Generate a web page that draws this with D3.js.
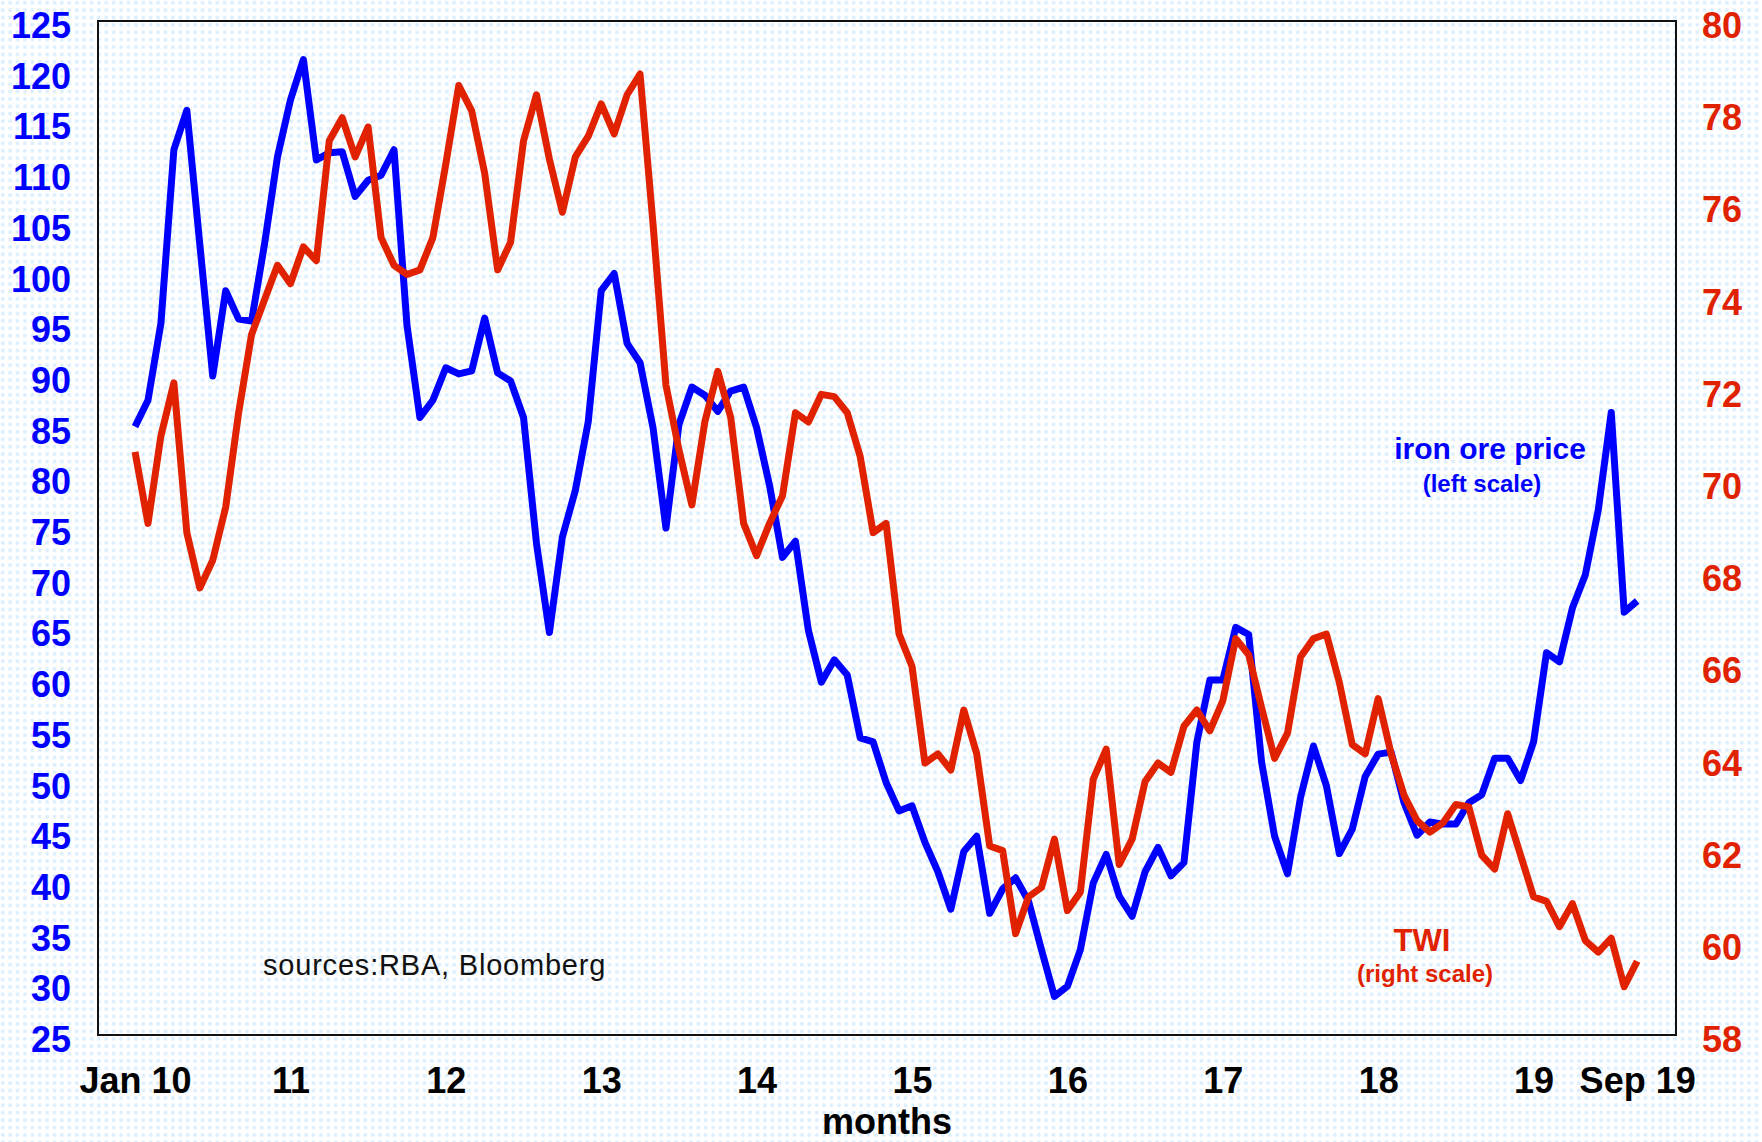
<!DOCTYPE html>
<html>
<head>
<meta charset="utf-8">
<script src="https://cdn.jsdelivr.net/npm/d3@7"></script>
<style>
  body { margin: 0; background: #ffffff; }
  svg { display: block; }
  text { font-family: "Liberation Sans", Arial, Helvetica, sans-serif; }
</style>
</head>
<body>
<svg id="chart" width="1762" height="1142"></svg>
<script>
// ---------------- DATA ----------------
// monthly, Jan 2010 .. Sep 2019
const months = d3.timeMonth.range(new Date(2010, 0, 1), new Date(2019, 9, 1));

// iron ore price, US$/t (left scale)
const ironOre = [
  85.0, 87.6, 95.2, 112.3, 116.2, 103.0, 90.0, 98.4, 95.6, 95.4, 103.0, 111.6,
  117.2, 121.2, 111.3, 112.0, 112.1, 107.7, 109.3, 109.8, 112.3, 95.0, 85.9, 87.6,
  90.8, 90.2, 90.5, 95.7, 90.3, 89.5, 85.9, 73.5, 64.7, 74.1, 78.7, 85.5,
  98.4, 100.1, 93.2, 91.3, 84.9, 75.0, 85.2, 88.9, 88.1, 86.5, 88.5, 88.9,
  84.9, 79.2, 72.1, 73.7, 64.9, 59.8, 62.0, 60.5, 54.3, 53.9, 49.9, 47.1,
  47.6, 44.0, 41.1, 37.4, 43.1, 44.6, 37.0, 39.4, 40.5, 38.2, 33.4, 28.8,
  29.8, 33.4, 40.0, 42.8, 38.7, 36.7, 41.1, 43.5, 40.7, 42.0, 53.9, 60.0,
  60.0, 65.2, 64.5, 51.9, 44.6, 40.9, 48.4, 53.5, 49.6, 42.9, 45.3, 50.5,
  52.7, 52.9, 47.9, 44.7, 46.0, 45.8, 45.8, 47.9, 48.7, 52.3, 52.3, 50.1,
  53.9, 62.7, 61.8, 67.1, 70.4, 76.8, 86.4, 66.7, 67.8
];

// trade weighted index (right scale)
const twi = [
  70.65, 69.1, 71.0, 72.15, 68.9, 67.7, 68.3, 69.45, 71.5, 73.2, 73.95, 74.7,
  74.3, 75.1, 74.8, 77.4, 77.9, 77.05, 77.7, 75.3, 74.7, 74.5, 74.6, 75.3,
  76.9, 78.6, 78.05, 76.7, 74.6, 75.2, 77.4, 78.4, 77.0, 75.85, 77.05, 77.5,
  78.2, 77.55, 78.4, 78.85, 75.6, 72.1, 70.7, 69.5, 71.3, 72.4, 71.4, 69.1,
  68.4, 69.1, 69.7, 71.5, 71.3, 71.9, 71.85, 71.5, 70.55, 68.9, 69.1, 66.7,
  66.0, 63.9, 64.1, 63.75, 65.05, 64.1, 62.1, 62.0, 60.2, 61.0, 61.2, 62.25,
  60.7, 61.1, 63.55, 64.2, 61.7, 62.25, 63.5, 63.9, 63.7, 64.7, 65.05, 64.6,
  65.25, 66.6, 66.25, 65.1, 64.0, 64.55, 66.2, 66.6, 66.7, 65.65, 64.3, 64.1,
  65.3, 64.1, 63.2, 62.65, 62.4, 62.6, 63.0, 62.95, 61.9, 61.6, 62.8, 61.9,
  61.0, 60.9, 60.35, 60.85, 60.05, 59.8, 60.1, 59.05, 59.6
];

const xTickIndex  = [0, 12, 24, 36, 48, 60, 72, 84, 96, 108, 116];
const xTickLabels = ["Jan 10", "11", "12", "13", "14", "15", "16", "17", "18", "19", "Sep 19"];
const leftTicks  = d3.range(25, 126, 5);
const rightTicks = d3.range(58, 81, 2);

// ---------------- LAYOUT ----------------
const W = 1762, H = 1142;
const plot = { left: 98, top: 21, right: 1676, bottom: 1035 };
const BLUE = "#0000ff", RED = "#e02200";

const svg = d3.select("#chart");

// dotted background pattern
const defs = svg.append("defs");
const pat = defs.append("pattern")
  .attr("id", "dots").attr("patternUnits", "userSpaceOnUse")
  .attr("width", 7.4).attr("height", 7.4);
pat.append("rect").attr("width", 7.4).attr("height", 7.4).attr("fill", "#ffffff");
pat.append("rect").attr("x", 1).attr("y", 1).attr("width", 3.4).attr("height", 3.4).attr("fill", "#dcefff");
svg.append("rect").attr("width", W).attr("height", H).attr("fill", "url(#dots)");

// scales
const x = d3.scaleLinear().domain([-2.86, 119.0]).range([plot.left, plot.right]);
const yL = d3.scaleLinear().domain([25, 125]).range([plot.bottom, plot.top]);
const yR = d3.scaleLinear().domain([58, 80]).range([plot.bottom, plot.top]);

// frame
svg.append("rect")
  .attr("x", plot.left).attr("y", plot.top)
  .attr("width", plot.right - plot.left).attr("height", plot.bottom - plot.top)
  .attr("fill", "none").attr("stroke", "#111").attr("stroke-width", 2);

// left axis
const gL = svg.append("g").attr("transform", `translate(${plot.left},0)`)
  .call(d3.axisLeft(yL).tickValues(leftTicks).tickSize(0).tickPadding(27).tickFormat(d3.format("d")));
gL.select(".domain").remove();
gL.selectAll("text").attr("fill", BLUE).attr("font-size", 36).attr("font-weight", "bold")
  .attr("dy", "0.46em").style("font-family", '"Liberation Sans", Arial, sans-serif');

// right axis
const gR = svg.append("g").attr("transform", `translate(${plot.right},0)`)
  .call(d3.axisRight(yR).tickValues(rightTicks).tickSize(0).tickPadding(26).tickFormat(d3.format("d")));
gR.select(".domain").remove();
gR.selectAll("text").attr("fill", RED).attr("font-size", 36).attr("font-weight", "bold")
  .attr("dy", "0.46em").style("font-family", '"Liberation Sans", Arial, sans-serif');

// bottom axis
const gB = svg.append("g").attr("transform", `translate(0,${plot.bottom})`)
  .call(d3.axisBottom(x).tickValues(xTickIndex).tickSize(0).tickPadding(32)
    .tickFormat((d, i) => xTickLabels[i]));
gB.select(".domain").remove();
gB.selectAll("text").attr("fill", "#000").attr("font-size", 36).attr("font-weight", "bold")
  .style("font-family", '"Liberation Sans", Arial, sans-serif');

// axis title
svg.append("text").attr("x", (plot.left + plot.right) / 2).attr("y", 1134)
  .attr("text-anchor", "middle").attr("font-size", 36).attr("font-weight", "bold")
  .attr("fill", "#000").text("months");

// lines
const lineL = d3.line().x((d, i) => x(i)).y(d => yL(d));
const lineR = d3.line().x((d, i) => x(i)).y(d => yR(d));

svg.append("path").datum(ironOre).attr("d", lineL)
  .attr("fill", "none").attr("stroke", BLUE).attr("stroke-width", 7)
  .attr("stroke-linejoin", "round");
svg.append("path").datum(twi).attr("d", lineR)
  .attr("fill", "none").attr("stroke", RED).attr("stroke-width", 7)
  .attr("stroke-linejoin", "round");

// annotations
svg.append("text").attr("x", 1490).attr("y", 459).attr("text-anchor", "middle")
  .attr("font-size", 30).attr("font-weight", "bold").attr("fill", BLUE).text("iron ore price");
svg.append("text").attr("x", 1482).attr("y", 492).attr("text-anchor", "middle")
  .attr("font-size", 24).attr("font-weight", "bold").attr("fill", BLUE).text("(left scale)");
svg.append("text").attr("x", 1422).attr("y", 951).attr("text-anchor", "middle")
  .attr("font-size", 31).attr("font-weight", "bold").attr("fill", RED).text("TWI");
svg.append("text").attr("x", 1425).attr("y", 982).attr("text-anchor", "middle")
  .attr("font-size", 24).attr("font-weight", "bold").attr("fill", RED).text("(right scale)");
svg.append("text").attr("x", 263).attr("y", 975)
  .attr("font-size", 29).attr("fill", "#111").attr("letter-spacing", 0.8)
  .text("sources:RBA, Bloomberg");
</script>
</body>
</html>
